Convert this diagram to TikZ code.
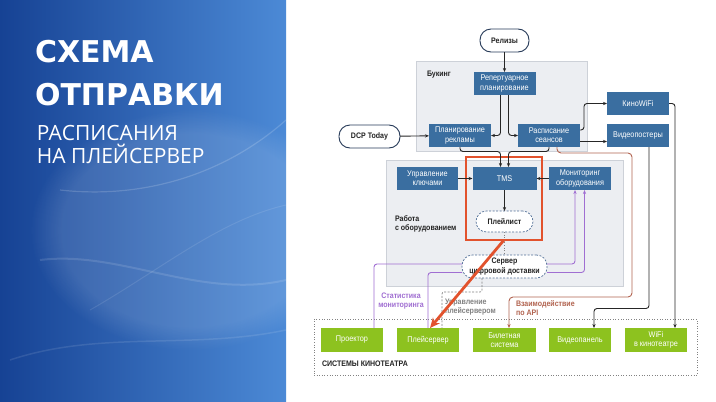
\documentclass[tikz,border=0pt]{standalone}
\usepackage{fontspec}
\setmainfont{Liberation Sans}
\newfontfamily\dfont[FakeStretch=0.88]{Liberation Sans}
\newfontfamily\titlefont{DejaVu Sans}
\newfontfamily\subfont{Open Sans}
\usetikzlibrary{arrows.meta,fadings}
\definecolor{boxblue}{RGB}{58,110,160}
\definecolor{grn}{RGB}{141,194,31}
\definecolor{areagray}{RGB}{236,238,242}
\definecolor{areaedge}{RGB}{205,209,216}
\definecolor{navy}{RGB}{38,58,88}
\definecolor{dashblue}{RGB}{80,110,150}
\definecolor{hired}{RGB}{226,82,45}
\definecolor{statpurple}{RGB}{160,110,210}
\definecolor{apibrown}{RGB}{178,100,80}
\definecolor{ctlgray}{RGB}{130,130,130}
\definecolor{txtdark}{RGB}{35,35,35}
\definecolor{paneldark}{RGB}{22,66,148}
\definecolor{panellight}{RGB}{76,138,214}
\begin{document}
\begin{tikzpicture}[x=1pt,y=-1pt,inner sep=0pt,outer sep=0pt,
>={Stealth[length=4pt,width=3.2pt]},
lbl/.style={font=\dfont\fontsize{8.3}{9.2}\selectfont},
hdr/.style={font=\dfont\bfseries\fontsize{8}{9.2}\selectfont,text=txtdark},
blk/.style={lbl,fill=boxblue,text=white,minimum width=62pt,minimum height=23pt,align=center},
grnbox/.style={lbl,fill=grn,text=white,minimum width=62pt,minimum height=24pt,align=center},
pill/.style={hdr,draw=navy,fill=white,rounded corners=11pt,minimum height=23pt,line width=0.9pt},
dpill/.style={hdr,draw=dashblue,fill=white,dash pattern=on 2pt off 1.5pt,rounded corners=10.5pt,line width=0.7pt,align=center},
area/.style={fill=areagray,draw=areaedge,line width=0.6pt},
sysarea/.style={draw=ctlgray,dotted,line width=0.6pt},
hilite/.style={draw=hired,line width=2.6pt},
conn/.style={draw=black!85,line width=0.9pt,rounded corners=3pt,->},
stat/.style={draw=statpurple,line width=0.9pt,rounded corners=3pt},
api/.style={draw=apibrown,line width=0.9pt,rounded corners=4pt,->},
ctl/.style={draw=ctlgray,line width=0.7pt,dash pattern=on 2pt off 1.5pt,rounded corners=2pt},
dotline/.style={draw=ctlgray,line width=0.6pt,dotted},
redarrow/.style={draw=hired,line width=2.8pt,-{Stealth[length=10pt,width=9pt]}}]
\useasboundingbox (0,0) rectangle (716,402);
\fill[white] (0,0) rectangle (716,402);

% left panel
\fill[left color=paneldark,right color=panellight] (0,0) rectangle (286,402);
\fill[white,opacity=0.12,path fading=circle with fuzzy edge 20 percent] (190,230) ellipse (160 and 120);
\draw[white,opacity=0.16,line width=1.2pt] (60,190) .. controls (150,200) and (230,170) .. (286,120);
\draw[white,opacity=0.12,line width=2pt] (40,260) .. controls (120,250) and (200,300) .. (286,280);
\draw[white,opacity=0.1,line width=1pt] (90,310) .. controls (160,270) and (220,220) .. (286,205);
\draw[white,opacity=0.1,line width=1.5pt] (10,360) .. controls (100,330) and (190,350) .. (286,330);
\draw (35,62) node[anchor=base west,text=white,font=\titlefont\bfseries\fontsize{30}{30}\selectfont] (title1) {СХЕМА};
\draw (35,105) node[anchor=base west,text=white,font=\titlefont\bfseries\fontsize{30}{30}\selectfont] (title2) {ОТПРАВКИ};
\draw (37,140) node[anchor=base west,text=white,font=\subfont\fontsize{21}{21}\selectfont] (sub1) {РАСПИСАНИЯ};
\draw (37,163) node[anchor=base west,text=white,font=\subfont\fontsize{21}{21}\selectfont] (sub2) {НА ПЛЕЙСЕРВЕР};

% areas
\draw (501.5,106) node[area,minimum width=171pt,minimum height=90pt] (booking) {};
\draw (504.5,223) node[area,minimum width=237pt,minimum height=126pt] (hw) {};
\draw (505.5,347) node[sysarea,minimum width=383pt,minimum height=56pt] (cinema) {};
\draw (427,75) node[hdr,anchor=west] (bookinglbl) {Букинг};
\draw (395,223.5) node[hdr,anchor=west,align=left] (hwlbl) {Работа\\с оборудованием};
\draw (322,364) node[hdr,anchor=west] (cinemalbl) {СИСТЕМЫ КИНОТЕАТРА};
\draw (504,198.5) node[hilite,minimum width=76pt,minimum height=83pt] (hl) {};

% nodes
\draw (504.5,40.5) node[pill,minimum width=49pt] (rel) {Релизы};
\draw (504.5,83.5) node[blk] (rep) {Репертуарное\\планирование};
\draw (369.5,136.5) node[pill,minimum width=61pt] (dcp) {DCP Today};
\draw (460,135.5) node[blk] (adv) {Планирование\\рекламы};
\draw (549,135.5) node[blk] (sched) {Расписание\\сеансов};
\draw (638,103.5) node[blk] (kwifi) {КиноWiFi};
\draw (638,135.5) node[blk] (posters) {Видеопостеры};
\draw (427.5,178.5) node[blk,minimum width=61pt] (keys) {Управление\\ключами};
\draw (504.5,178.5) node[blk,minimum width=64pt] (tms) {TMS};
\draw (580,178.5) node[blk] (mon) {Мониторинг\\оборудования};
\draw (504.5,221.5) node[dpill,minimum width=57pt,minimum height=21pt] (plist) {Плейлист};
\draw (504.5,266.5) node[dpill,minimum width=85pt,minimum height=23pt] (dcs) {Сервер\\цифровой доставки};
\draw (352,340) node[grnbox] (proj) {Проектор};
\draw (428,340) node[grnbox] (play) {Плейсервер};
\draw (504.5,340) node[grnbox,minimum width=63pt] (ticket) {Билетная\\система};
\draw (580,340) node[grnbox] (vpanel) {Видеопанель};
\draw (656,340) node[grnbox] (wifi) {WiFi\\в кинотеатре};

% connectors
\draw[conn] (rel) -- (rep);
\draw[conn] ([xshift=-4pt]rep.south) |- (adv.east);
\draw[conn] ([xshift=4pt]rep.south) |- (sched.west);
\draw[conn] (dcp) -- (adv);
\draw[conn] ([yshift=5.5pt]sched.east) -- ++(4,0) |- (kwifi.west);
\draw[conn] ([yshift=-6pt]sched.east) -- ([yshift=-6pt]posters.west);
\draw[conn] (adv.south) -- ++(0,4.5) -| ([xshift=-4pt]tms.north);
\draw[conn] (sched.south) -- ++(0,4.5) -| ([xshift=4pt]tms.north);
\draw[conn] (keys) -- (tms);
\draw[conn] (mon) -- (tms);
\draw[conn] (tms) -- (plist);
\draw[dotline] (plist) -- (dcs);
\draw[api] ([xshift=8pt]sched.south) -- ++(0,6) -| (632,297) -| ([xshift=4.5pt]ticket.north);
\draw[stat] ([xshift=22pt]proj.north) |- ([yshift=2.5pt]dcs.west);
\draw[stat] (play.north) |- ([yshift=-6pt]dcs.west);
\draw[stat,->] ([yshift=2.5pt]dcs.east) -| ([xshift=-5pt]mon.south);
\draw[stat,->] ([yshift=-6pt]dcs.east) -| ([xshift=4.5pt]mon.south);
\draw[ctl] ([xshift=-22.5pt]dcs.south) -- ++(0,14) -| ([xshift=14pt]play.north);
\draw[conn] ([xshift=11pt]posters.south) -- ++(0,161.5) -| ([xshift=14pt]vpanel.north);
\draw[conn] (kwifi.east) -| ([xshift=19pt]wifi.north);

% connector labels
\draw (401,301) node[hdr,text=statpurple,align=center] (statlbl) {Статистика\\мониторинга};
\draw (445,307) node[hdr,text=ctlgray,anchor=west,align=left] (ctllbl) {Управление\\плейсервером};
\draw (516,308) node[hdr,text=apibrown,anchor=west,align=left] (apilbl) {Взаимодействие\\по API};

\draw[redarrow] (hl.south) -- ([xshift=2pt]play.north);
\end{tikzpicture}
\end{document}
